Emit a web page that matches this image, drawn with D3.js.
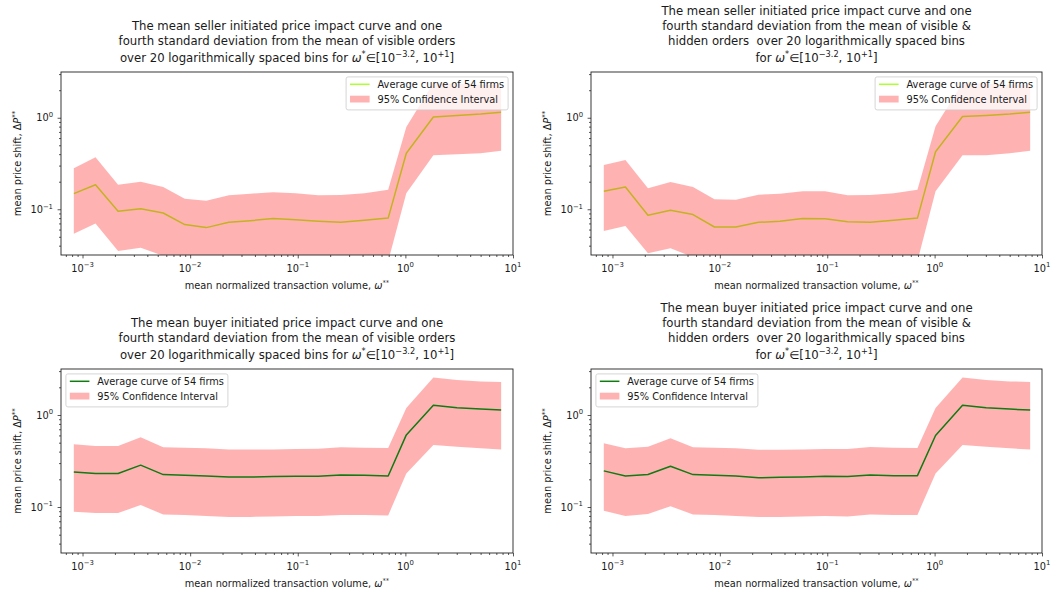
<!DOCTYPE html>
<html>
<head>
<meta charset="utf-8">
<script src="https://cdn.jsdelivr.net/npm/d3@7"></script>
<style>
  body { margin: 0; background: #fff; }
  svg text { font-family: "DejaVu Sans", sans-serif; fill: #1a1a1a; }
</style>
</head>
<body>
<svg id="chart" width="1061" height="596"></svg>
<script>
// Mean normalized transaction volume of each logarithmic bin (shared by all panels)
const volume = [0.00083, 0.00132, 0.00214, 0.00347, 0.00562, 0.00891, 0.0141, 0.0229, 0.0363, 0.0589,
                0.0955, 0.155, 0.251, 0.417, 0.692, 1.02, 1.82, 3.02, 5.01, 7.76];

// Seller initiated, visible orders
const sellVisibleMean  = [0.148, 0.185, 0.095, 0.101, 0.091, 0.068, 0.063, 0.072, 0.075, 0.079,
                          0.077, 0.074, 0.072, 0.076, 0.080, 0.41, 1.02, 1.06, 1.10, 1.15];
const sellVisibleUpper = [0.28, 0.37, 0.185, 0.20, 0.175, 0.13, 0.124, 0.142, 0.148, 0.153,
                          0.150, 0.142, 0.143, 0.150, 0.163, 0.79, 2.4, 2.35, 2.3, 2.3];
const sellVisibleLower = [0.054, 0.070, 0.035, 0.038, 0.031, 0.022, 0.021, 0.023, 0.022, 0.024,
                          0.023, 0.022, 0.021, 0.023, 0.027, 0.150, 0.39, 0.40, 0.41, 0.435];

// Seller initiated, visible & hidden orders
const sellHiddenMean  = [0.157, 0.175, 0.086, 0.0975, 0.0875, 0.064, 0.064, 0.072, 0.074, 0.079,
                         0.0786, 0.073, 0.072, 0.076, 0.080, 0.425, 1.03, 1.06, 1.10, 1.15];
const sellHiddenUpper = [0.305, 0.345, 0.170, 0.198, 0.175, 0.129, 0.127, 0.144, 0.148, 0.157,
                         0.157, 0.142, 0.143, 0.150, 0.163, 0.805, 2.4, 2.35, 2.3, 2.3];
const sellHiddenLower = [0.058, 0.0655, 0.033, 0.0375, 0.030, 0.022, 0.021, 0.023, 0.022, 0.024,
                         0.023, 0.022, 0.021, 0.023, 0.027, 0.157, 0.39, 0.39, 0.41, 0.435];

// Buyer initiated, visible orders
const buyVisibleMean  = [0.240, 0.231, 0.231, 0.285, 0.225, 0.221, 0.217, 0.212, 0.212, 0.214,
                         0.216, 0.216, 0.223, 0.221, 0.217, 0.608, 1.28, 1.20, 1.16, 1.13];
const buyVisibleUpper = [0.48, 0.46, 0.46, 0.573, 0.445, 0.44, 0.434, 0.423, 0.423, 0.423,
                         0.426, 0.43, 0.445, 0.44, 0.438, 1.19, 2.55, 2.40, 2.32, 2.29];
const buyVisibleLower = [0.089, 0.086, 0.086, 0.105, 0.083, 0.082, 0.080, 0.078, 0.078, 0.079,
                         0.080, 0.080, 0.082, 0.082, 0.081, 0.231, 0.472, 0.453, 0.434, 0.423];

// Buyer initiated, visible & hidden orders
const buyHiddenMean  = [0.247, 0.217, 0.226, 0.277, 0.225, 0.221, 0.217, 0.208, 0.210, 0.212,
                        0.216, 0.214, 0.223, 0.219, 0.219, 0.598, 1.28, 1.20, 1.16, 1.13];
const buyHiddenUpper = [0.492, 0.434, 0.453, 0.559, 0.445, 0.44, 0.434, 0.42, 0.42, 0.423,
                        0.426, 0.426, 0.449, 0.44, 0.438, 1.19, 2.55, 2.40, 2.32, 2.29];
const buyHiddenLower = [0.091, 0.080, 0.084, 0.102, 0.083, 0.082, 0.080, 0.078, 0.078, 0.079,
                        0.080, 0.079, 0.083, 0.082, 0.082, 0.231, 0.472, 0.453, 0.434, 0.423];

// Tick labels
const xTickValues = [1e-3, 1e-2, 1e-1, 1e0, 1e1];
const xTickExponents = ["\u22123", "\u22122", "\u22121", "0", "1"];
const yTickValues = [1e-1, 1e0];
const yTickExponents = ["\u22121", "0"];

const legendLabels = ["Average curve of 54 firms", "95% Confidence Interval"];

// Rich-text runs: it = italic, sup = superscript
const rangeMath = [{t: "\u03c9", it: true}, {t: "*", sup: true}, {t: "\u2208[10"}, {t: "\u22123.2", sup: true},
                   {t: ", 10"}, {t: "+1", sup: true}, {t: "]"}];
const xLabelRuns = [{t: "mean normalized transaction volume, "}, {t: "\u03c9", it: true}, {t: "**", sup: true}];
const yLabelRuns = [{t: "mean price shift, \u0394"}, {t: "P", it: true}, {t: "**", sup: true}];

const titleSellVisible = [
  [{t: "The mean seller initiated price impact curve and one"}],
  [{t: "fourth standard deviation from the mean of visible orders"}],
  [{t: "over 20 logarithmically spaced bins for "}, ...rangeMath]
];
const titleSellHidden = [
  [{t: "The mean seller initiated price impact curve and one"}],
  [{t: "fourth standard deviation from the mean of visible &"}],
  [{t: "hidden orders\u00a0 over 20 logarithmically spaced bins"}],
  [{t: "for "}, ...rangeMath]
];
const titleBuyVisible = [
  [{t: "The mean buyer initiated price impact curve and one"}],
  [{t: "fourth standard deviation from the mean of visible orders"}],
  [{t: "over 20 logarithmically spaced bins for "}, ...rangeMath]
];
const titleBuyHidden = [
  [{t: "The mean buyer initiated price impact curve and one"}],
  [{t: "fourth standard deviation from the mean of visible &"}],
  [{t: "hidden orders\u00a0 over 20 logarithmically spaced bins"}],
  [{t: "for "}, ...rangeMath]
];

const panels = [
  {box: {x: 61, y: 72, w: 452, h: 183}, mean: sellVisibleMean, upper: sellVisibleUpper, lower: sellVisibleLower,
   title: titleSellVisible, lineColor: "#adff2f", lineOnTop: false, legendLoc: "right"},
  {box: {x: 591, y: 72, w: 451, h: 183}, mean: sellHiddenMean, upper: sellHiddenUpper, lower: sellHiddenLower,
   title: titleSellHidden, lineColor: "#adff2f", lineOnTop: false, legendLoc: "right"},
  {box: {x: 61, y: 369, w: 452, h: 184}, mean: buyVisibleMean, upper: buyVisibleUpper, lower: buyVisibleLower,
   title: titleBuyVisible, lineColor: "#117a11", lineOnTop: true, legendLoc: "left"},
  {box: {x: 591, y: 369, w: 451, h: 184}, mean: buyHiddenMean, upper: buyHiddenUpper, lower: buyHiddenLower,
   title: titleBuyHidden, lineColor: "#117a11", lineOnTop: true, legendLoc: "left"}
];

const svg = d3.select("#chart");
const FS = 9.8, TITLE_FS = 11.7;

function rich(textSel, runs, fs) {
  let shift = 0;
  runs.forEach(r => {
    const ts = textSel.append("tspan").text(r.t);
    const target = r.sup ? -0.42 * fs : 0;
    if (target !== shift) { ts.attr("dy", target - shift); shift = target; }
    if (r.sup) ts.attr("font-size", 0.7 * fs);
    if (r.it) ts.attr("font-style", "italic");
  });
  return textSel;
}

function minorTicks(domain) {
  const out = [];
  const lo = Math.floor(Math.log10(domain[0])), hi = Math.ceil(Math.log10(domain[1]));
  for (let e = lo; e <= hi; e++) {
    for (let m = 2; m <= 9; m++) {
      const v = m * Math.pow(10, e);
      if (v >= domain[0] && v <= domain[1]) out.push(v);
    }
  }
  return out;
}

panels.forEach((p, i) => {
  const b = p.box;
  const g = svg.append("g");
  const xDomain = [Math.pow(10, -3.2), 10];
  const yDomain = [Math.pow(10, -1.5), Math.pow(10, 0.5)];
  const x = d3.scaleLog().domain(xDomain).range([b.x, b.x + b.w]);
  const y = d3.scaleLog().domain(yDomain).range([b.y + b.h, b.y]);

  const clipId = "clip" + i;
  svg.append("clipPath").attr("id", clipId)
    .append("rect").attr("x", b.x).attr("y", b.y).attr("width", b.w).attr("height", b.h);

  const rows = volume.map((v, k) => ({v, m: p.mean[k], hi: p.upper[k], lo: p.lower[k]}));
  const plot = g.append("g").attr("clip-path", `url(#${clipId})`);

  const drawMean = () => plot.append("path")
    .attr("d", d3.line().x(d => x(d.v)).y(d => y(d.m))(rows))
    .attr("fill", "none").attr("stroke", p.lineColor).attr("stroke-width", 1.5)
    .attr("stroke-linejoin", "round");

  if (!p.lineOnTop) drawMean();
  // confidence band in translucent red
  plot.append("path")
    .attr("d", d3.area().x(d => x(d.v)).y0(d => y(d.lo)).y1(d => y(d.hi))(rows))
    .attr("fill", "red").attr("fill-opacity", 0.3);
  if (p.lineOnTop) drawMean();

  // axes frame
  g.append("rect").attr("x", b.x).attr("y", b.y).attr("width", b.w).attr("height", b.h)
    .attr("fill", "none").attr("stroke", "#222").attr("stroke-width", 0.9);

  // x ticks
  const xAxisG = g.append("g").attr("transform", `translate(0,${b.y + b.h})`);
  xAxisG.append("g").call(d3.axisBottom(x).tickValues(xTickValues).tickSize(3.4).tickFormat(() => ""));
  xAxisG.append("g").call(d3.axisBottom(x).tickValues(minorTicks(xDomain)).tickSize(2).tickFormat(() => ""));
  xAxisG.selectAll(".domain").remove();
  xAxisG.selectAll(".tick line").attr("stroke", "#222").attr("stroke-width", 0.75);

  xTickValues.forEach((v, k) => {
    rich(g.append("text").attr("x", x(v)).attr("y", b.y + b.h + 16.5)
      .attr("text-anchor", "middle").attr("font-size", FS),
      [{t: "10"}, {t: xTickExponents[k], sup: true}], FS);
  });

  // y ticks
  const yAxisG = g.append("g").attr("transform", `translate(${b.x},0)`);
  yAxisG.append("g").call(d3.axisLeft(y).tickValues(yTickValues).tickSize(3.4).tickFormat(() => ""));
  yAxisG.append("g").call(d3.axisLeft(y).tickValues(minorTicks(yDomain)).tickSize(2).tickFormat(() => ""));
  yAxisG.selectAll(".domain").remove();
  yAxisG.selectAll(".tick line").attr("stroke", "#222").attr("stroke-width", 0.75);

  yTickValues.forEach((v, k) => {
    rich(g.append("text").attr("x", b.x - 8).attr("y", y(v) + 3.6)
      .attr("text-anchor", "end").attr("font-size", FS),
      [{t: "10"}, {t: yTickExponents[k], sup: true}], FS);
  });

  // axis labels
  rich(g.append("text").attr("x", b.x + b.w / 2).attr("y", b.y + b.h + 34)
    .attr("text-anchor", "middle").attr("font-size", FS), xLabelRuns, FS);
  rich(g.append("text").attr("transform", `translate(${b.x - 40},${b.y + b.h / 2}) rotate(-90)`)
    .attr("text-anchor", "middle").attr("font-size", FS), yLabelRuns, FS);

  // title, bottom line anchored just above the axes
  const nLines = p.title.length;
  let base = b.y - 10.5;
  const baselines = [];
  for (let k = nLines - 1; k >= 0; k--) {
    baselines[k] = base;
    base -= (k === nLines - 1) ? 17 : 15;
  }
  p.title.forEach((runs, k) => {
    rich(g.append("text").attr("x", b.x + b.w / 2).attr("y", baselines[k])
      .attr("text-anchor", "middle").attr("font-size", TITLE_FS), runs, TITLE_FS);
  });

  // legend
  const pad = 0.4 * FS, handleLen = 2 * FS, handlePad = 0.8 * FS, gapAxes = 0.5 * FS;
  const leg = g.append("g");
  const frame = leg.append("rect");
  const texts = legendLabels.map(l => leg.append("text").attr("font-size", FS).text(l));
  const maxW = d3.max(texts, t => t.node().getComputedTextLength());
  const legW = pad + handleLen + handlePad + maxW + pad;
  const legH = 33;
  const lx = p.legendLoc === "right" ? b.x + b.w - gapAxes - legW : b.x + gapAxes;
  const ly = b.y + gapAxes;
  frame.attr("x", lx).attr("y", ly).attr("width", legW).attr("height", legH).attr("rx", 2)
    .attr("fill", "#fff").attr("fill-opacity", 0.8).attr("stroke", "#cccccc").attr("stroke-width", 0.8);
  const rowY = [ly + 7.4, ly + 22.2];
  leg.insert("line", "text")
    .attr("x1", lx + pad).attr("x2", lx + pad + handleLen).attr("y1", rowY[0]).attr("y2", rowY[0])
    .attr("stroke", p.lineColor).attr("stroke-width", 1.5);
  leg.insert("rect", "text")
    .attr("x", lx + pad).attr("y", rowY[1] - 3.4).attr("width", handleLen).attr("height", 6.8)
    .attr("fill", "red").attr("fill-opacity", 0.3);
  texts.forEach((t, k) => t.attr("x", lx + pad + handleLen + handlePad).attr("y", rowY[k] + 3.5));
});
</script>
</body>
</html>
